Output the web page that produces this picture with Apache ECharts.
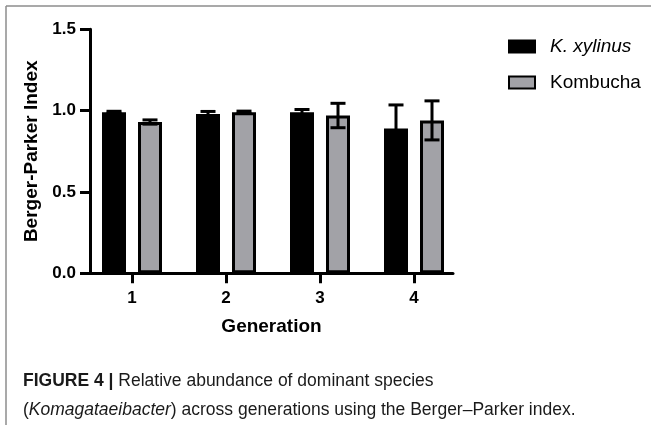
<!DOCTYPE html>
<html>
<head>
<meta charset="utf-8">
<script src="https://cdn.jsdelivr.net/npm/echarts@6/dist/echarts.min.js"></script>
<style>
html,body{margin:0;padding:0;background:#fff;}
#main{width:651px;height:425px;}
</style>
</head>
<body>
<div id="main"></div>
<script>
// ---- data ----
const generations = ['1', '2', '3', '4'];
const seriesNames = ['K. xylinus', 'Kombucha'];
const kxylinusMean = [0.99, 0.98, 0.99, 0.89];
const kxylinusErr = [0.006, 0.015, 0.017, 0.145];
const kombuchaMean = [0.93, 0.99, 0.97, 0.94];
const kombuchaErr = [0.013, 0.007, 0.075, 0.12];
const yMin = 0, yMax = 1.5, yStep = 0.5;
const captionBold = 'FIGURE 4 |';
const captionLine1 = ' Relative abundance of dominant species';
const captionItalic = 'Komagataeibacter';
const captionLine2 = ') across generations using the Berger\u2013Parker index.';

// ---- styles ----
const FONT = '"Liberation Sans", Arial, Helvetica, sans-serif';
const BAR_W = 24;
const BAR_OFF = 18;
const GRAY = '#a2a2a7';

const chart = echarts.init(document.getElementById('main'));

function errItem(offset) {
  return function (params, api) {
    const idx = api.value(0), m = api.value(1), e = api.value(2);
    const top = api.coord([idx, m + e]);
    const bot = api.coord([idx, m - e]);
    const x = top[0] + offset;
    const cap = 7.5;
    const st = { stroke: '#000', lineWidth: 3 };
    return {
      type: 'group',
      children: [
        { type: 'line', shape: { x1: x, y1: top[1], x2: x, y2: bot[1] }, style: st },
        { type: 'line', shape: { x1: x - cap, y1: top[1], x2: x + cap, y2: top[1] }, style: st },
        { type: 'line', shape: { x1: x - cap, y1: bot[1], x2: x + cap, y2: bot[1] }, style: st }
      ]
    };
  };
}

const option = {
  animation: false,
  backgroundColor: '#fff',
  textStyle: { fontFamily: FONT },
  grid: [
    { left: 85, width: 376, top: 29.3, bottom: 151.7 },
    { left: 90, width: 363, top: 29.3, bottom: 151.7 }
  ],
  legend: {
    orient: 'vertical',
    left: 508,
    top: 37,
    padding: 0,
    itemWidth: 26,
    itemHeight: 12,
    itemGap: 17,
    icon: 'rect',
    data: seriesNames,
    textStyle: {
      fontFamily: FONT, fontSize: 19, color: '#000', padding: [0, 0, 0, 10],
      rich: { i: { fontStyle: 'italic', fontSize: 19, fontFamily: FONT, color: '#000' } }
    },
    formatter: function (n) { return n === 'K. xylinus' ? '{i|' + n + '}' : n; }
  },
  xAxis: [
    {
      type: 'category', gridIndex: 0, data: generations,
      axisLine: { show: false },
      axisTick: { show: true, alignWithLabel: true, length: 10, lineStyle: { color: '#000', width: 3 } },
      axisLabel: { margin: 17, fontSize: 17, fontWeight: 'bold', color: '#000', fontFamily: FONT }
    },
    {
      type: 'value', gridIndex: 1, min: 0, max: 1,
      axisLine: { show: true, lineStyle: { color: '#000', width: 3 } },
      axisTick: { show: false }, axisLabel: { show: false }, splitLine: { show: false },
      name: 'Generation', nameLocation: 'middle', nameGap: 44,
      nameTextStyle: { fontSize: 19, fontWeight: 'bold', color: '#000', fontFamily: FONT }
    }
  ],
  yAxis: [
    { type: 'value', gridIndex: 0, min: yMin, max: yMax, interval: yStep, show: false },
    {
      type: 'value', gridIndex: 1, min: yMin, max: yMax, interval: yStep,
      axisLine: { show: true, lineStyle: { color: '#000', width: 3 } },
      axisTick: { show: true, length: 10, lineStyle: { color: '#000', width: 3 } },
      axisLabel: { margin: 14, fontSize: 17, fontWeight: 'bold', color: '#000', fontFamily: FONT,
        formatter: function (v) { return v.toFixed(1); } },
      splitLine: { show: false },
      name: 'Berger-Parker Index', nameLocation: 'middle', nameRotate: 90, nameGap: 46,
      nameTextStyle: { fontSize: 19, fontWeight: 'bold', color: '#000', fontFamily: FONT }
    }
  ],
  series: [
    {
      name: seriesNames[0], type: 'bar', xAxisIndex: 0, yAxisIndex: 0,
      data: kxylinusMean, barWidth: BAR_W, barGap: '50%',
      itemStyle: { color: '#000', borderColor: '#000', borderWidth: 3 }
    },
    {
      name: seriesNames[1], type: 'bar', xAxisIndex: 0, yAxisIndex: 0,
      data: kombuchaMean, barWidth: BAR_W, barGap: '50%',
      itemStyle: { color: GRAY, borderColor: '#000', borderWidth: 3 }
    },
    {
      type: 'custom', xAxisIndex: 0, yAxisIndex: 0, z: 5,
      renderItem: errItem(-BAR_OFF),
      data: generations.map((g, i) => [i, kxylinusMean[i], kxylinusErr[i]])
    },
    {
      type: 'custom', xAxisIndex: 0, yAxisIndex: 0, z: 5,
      renderItem: errItem(BAR_OFF),
      data: generations.map((g, i) => [i, kombuchaMean[i], kombuchaErr[i]])
    }
  ],
  graphic: [
    { type: 'line', shape: { x1: 6, y1: 6, x2: 651, y2: 6 }, style: { stroke: '#8c8c8c', lineWidth: 1.5 } },
    { type: 'line', shape: { x1: 6, y1: 6, x2: 6, y2: 425 }, style: { stroke: '#8c8c8c', lineWidth: 1.5 } },
    {
      type: 'text', left: 23, top: 367,
      style: {
        text: '{b|' + captionBold + '}' + captionLine1 + '\n(' + '{i|' + captionItalic + '}' + captionLine2,
        font: '17.5px ' + FONT, fill: '#1a1a1a', lineHeight: 29,
        rich: {
          b: { fontWeight: 'bold', fontSize: 17.5, fontFamily: FONT, fill: '#1a1a1a', lineHeight: 29 },
          i: { fontStyle: 'italic', fontSize: 17.5, fontFamily: FONT, fill: '#1a1a1a', lineHeight: 29 }
        }
      }
    }
  ]
};
chart.setOption(option);
</script>
</body>
</html>
